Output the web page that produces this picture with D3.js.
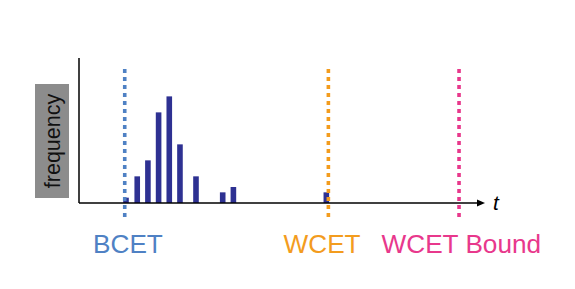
<!DOCTYPE html>
<html><head><meta charset="utf-8">
<script src="https://cdn.jsdelivr.net/npm/d3@7"></script>
<style>body{margin:0;background:#fff}svg{display:block}</style>
</head><body>
<svg id="c" width="575" height="289"></svg>
<script>
// data
const times = [4.4, 5.45, 6.45, 7.45, 8.45, 9.45, 10.95, 13.45, 14.45, 23.15];
const counts = [1, 5, 8, 17, 20, 11, 5, 2, 3, 2];
const markerNames = ["BCET", "WCET", "WCET Bound"];
const markerTimes = [4.28, 23.34, 35.57];
const markerColors = ["#4f81c4", "#f39c1e", "#e8388c"];
const yLabel = "frequency";
const xLabel = "t";

(function () {
const svg = d3.select("#c");
const left = 79, right = 485, base = 203, topY = 58;
const x = d3.scaleLinear().domain([0, 38]).range([left, right]);
const y = d3.scaleLinear().domain([0, 27.2]).range([base, topY]);
const bw = 5.6;

// bars
svg.selectAll("rect.bar").data(times).join("rect")
  .attr("class", "bar")
  .attr("x", (d) => x(d) - bw / 2)
  .attr("width", bw)
  .attr("y", (d, i) => y(counts[i]))
  .attr("height", (d, i) => base - y(counts[i]))
  .attr("fill", "#2e3192");

// axes
svg.append("line").attr("x1", left).attr("x2", left).attr("y1", topY).attr("y2", base)
  .attr("stroke", "#000").attr("stroke-width", 1.5);
svg.append("line").attr("x1", left).attr("x2", right - 6).attr("y1", base).attr("y2", base)
  .attr("stroke", "#000").attr("stroke-width", 1.5);
svg.append("path").attr("d", `M${right},${base} L${right - 8},${base - 3.5} L${right - 8},${base + 3.5} Z`)
  .attr("fill", "#000");
svg.append("text").attr("x", 493).attr("y", 210).text(xLabel)
  .attr("font-family", "Liberation Sans, Arial, sans-serif").attr("font-style", "italic")
  .attr("font-size", 21).attr("fill", "#000");

// markers
markerTimes.forEach((t, i) => {
  svg.append("line").attr("x1", x(t)).attr("x2", x(t)).attr("y1", 69).attr("y2", 217)
    .attr("stroke", markerColors[i]).attr("stroke-width", 3.6)
    .attr("stroke-dasharray", "4,4");
});
const labelX = [93, 283.5, 381.5];
markerNames.forEach((n, i) => {
  svg.append("text").attr("x", labelX[i]).attr("y", 253).text(n)
    .attr("font-family", "Liberation Sans, Arial, sans-serif").attr("font-size", 26.2)
    .attr("fill", markerColors[i]);
});

// y label box
svg.append("rect").attr("x", 35).attr("y", 84).attr("width", 34).attr("height", 114).attr("fill", "#8c8c8c");
svg.append("text").attr("transform", "translate(60,141) rotate(-90)")
  .attr("text-anchor", "middle").text(yLabel)
  .attr("font-family", "Liberation Sans, Arial, sans-serif").attr("font-size", 21.5).attr("fill", "#111");
})();
</script>
</body></html>
